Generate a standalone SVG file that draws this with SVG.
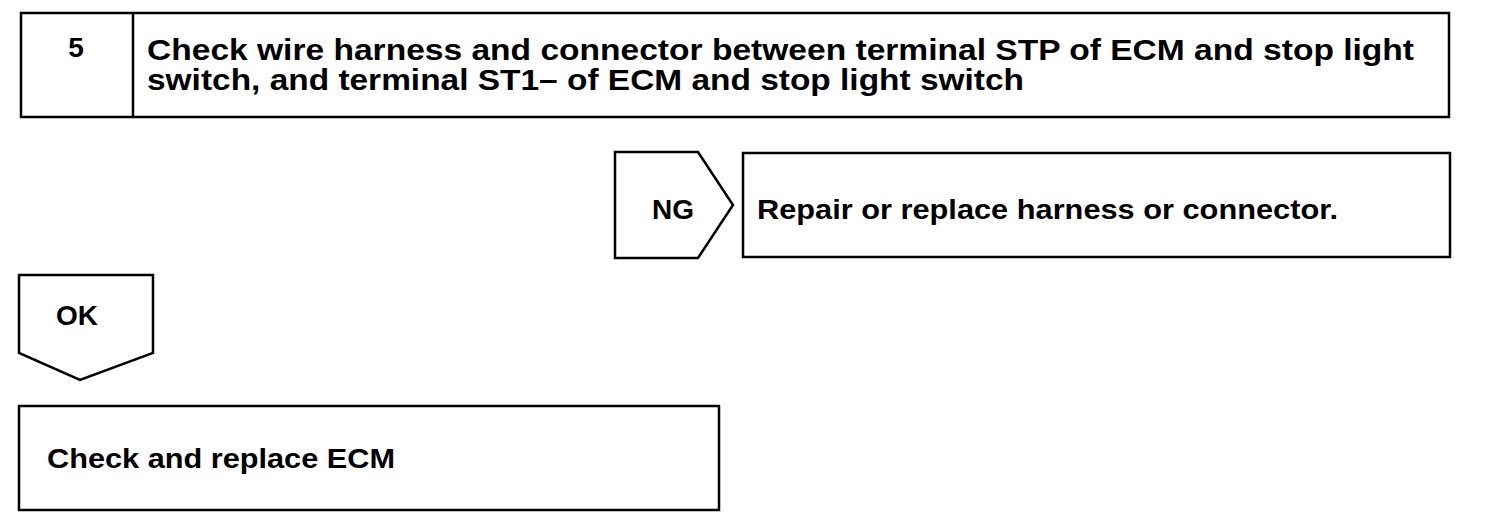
<svg xmlns="http://www.w3.org/2000/svg" width="1504" height="528" viewBox="0 0 1504 528">
<style>
.b{fill:#fff;stroke:#000;stroke-width:2.5;stroke-linejoin:miter}
.t{font-family:"Liberation Sans",Arial,sans-serif;font-weight:bold;fill:#000}
</style>
<rect width="1504" height="528" fill="#fff"/>
<g id="step5">
<rect class="b" x="21" y="13" width="1428" height="104"/>
<line class="b" x1="133" y1="13" x2="133" y2="117"/>
<text class="t" x="76" y="57" font-size="28" text-anchor="middle">5</text>
<text class="t" x="147" y="60" font-size="30" textLength="1267" lengthAdjust="spacingAndGlyphs">Check wire harness and connector between terminal STP of ECM and stop light</text>
<text class="t" x="147" y="90" font-size="30" textLength="877" lengthAdjust="spacingAndGlyphs">switch, and terminal ST1– of ECM and stop light switch</text>
</g>
<g id="ng">
<polygon class="b" points="615,152 698,152 733,205 698,258 615,258"/>
<text class="t" x="673" y="219" font-size="28" text-anchor="middle">NG</text>
</g>
<g id="repair">
<rect class="b" x="743" y="153" width="707" height="104"/>
<text class="t" x="757" y="219" font-size="28" textLength="581" lengthAdjust="spacingAndGlyphs">Repair or replace harness or connector.</text>
</g>
<g id="ok">
<polygon class="b" points="19,275 153,275 153,353 80,380 19,353"/>
<text class="t" x="77" y="325" font-size="28" text-anchor="middle">OK</text>
</g>
<g id="ecm">
<rect class="b" x="19" y="406" width="700" height="104"/>
<text class="t" x="47" y="468" font-size="28" textLength="348" lengthAdjust="spacingAndGlyphs">Check and replace ECM</text>
</g>
<g id="connectors"></g>
</svg>
